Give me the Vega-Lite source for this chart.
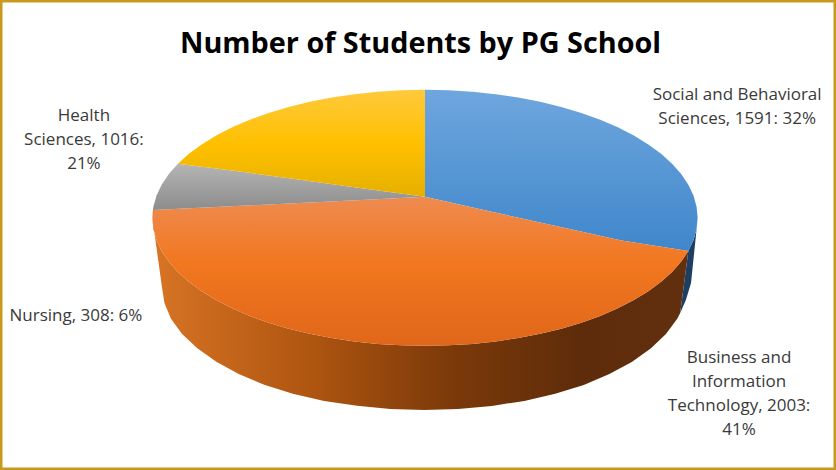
{"$schema":"https://vega.github.io/schema/vega-lite/v6.json","width":836,"height":470,"autosize":"none","padding":0,"background":"white","view":{"stroke":"#C79A1E","strokeWidth":5},"title":{"text":"Number of Students by PG School","font":"Open Sans","fontSize":28.8,"fontWeight":"bold","color":"#000000","anchor":"start","dx":180,"dy":59,"offset":0},"projection":{"type":"orthographic","rotate":[0,-28,0],"scale":1570,"translate":[425,1583]},"datasets":{"slices":[{"type":"Feature","properties":{"part":"wall","school":"Social and Behavioral Sciences"},"geometry":{"type":"Polygon","coordinates":[[[85,80],[63.86,79.12],[58.07,78.71],[53.74,78.37],[75,80],[80,80],[85,80]]]}},{"type":"Feature","properties":{"part":"wall","school":"Business and Information Technology"},"geometry":{"type":"Polygon","coordinates":[[[75,80],[53.74,78.37],[51.9,78.22],[46.82,77.85],[41.7,77.52],[36.58,77.23],[31.42,76.98],[26.22,76.77],[20.98,76.61],[15.72,76.49],[10.44,76.41],[5.13,76.36],[-0.16,76.34],[-5.37,76.36],[-10.59,76.41],[-15.94,76.48],[-21.29,76.59],[-26.54,76.75],[-31.73,76.96],[-36.9,77.21],[-42.03,77.49],[-47.12,77.81],[-52.18,78.18],[-57.18,78.61],[-62.19,79.08],[-90,80],[-85,80],[-80,80],[-75,80],[-70,80],[-65,80],[-60,80],[-55,80],[-50,80],[-45,80],[-40,80],[-35,80],[-30,80],[-25,80],[-20,80],[-15,80],[-10,80],[-5,80],[0,80],[5,80],[10,80],[15,80],[20,80],[25,80],[30,80],[35,80],[40,80],[45,80],[50,80],[55,80],[60,80],[65,80],[70,80],[75,80]]]}},{"type":"Feature","properties":{"part":"top","school":"Social and Behavioral Sciences","students":1591,"pct":32,"label":"Social and Behavioral\nSciences, 1591: 32%","labelLon":138.5,"labelLat":72.54},"geometry":{"type":"Polygon","coordinates":[[[0,90],[180,80],[175,80],[170,80],[165,80],[160,80],[155,80],[150,80],[145,80],[140,80],[135,80],[130,80],[125,80],[120,80],[115,80],[110,80],[105,80],[100,80],[95,80],[90,80],[85,80],[80,80],[75,80],[71.1,82.4],[68.9,84.87],[66.6,87.4],[0,90]]]}},{"type":"Feature","properties":{"part":"top","school":"Business and Information Technology","students":2003,"pct":41,"label":"Business and\nInformation\nTechnology, 2003:\n41%","labelLon":51.88,"labelLat":75.27},"geometry":{"type":"Polygon","coordinates":[[[0,90],[66.6,87.4],[68.9,84.87],[71.1,82.4],[75,80],[70,80],[65,80],[60,80],[55,80],[50,80],[45,80],[40,80],[35,80],[30,80],[25,80],[20,80],[15,80],[10,80],[5,80],[0,80],[-5,80],[-10,80],[-15,80],[-20,80],[-25,80],[-30,80],[-35,80],[-40,80],[-45,80],[-50,80],[-55,80],[-60,80],[-65,80],[-70,80],[-75,80],[-80,80],[-85,80],[-90,80],[-93.5,80],[-91.06,82.53],[-88.6,85.03],[-86.1,87.5],[0,90]]]}},{"type":"Feature","properties":{"part":"top","school":"Nursing","students":308,"pct":6,"label":"Nursing, 308: 6%","labelLon":-65,"labelLat":75.8},"geometry":{"type":"Polygon","coordinates":[[[0,90],[-86.1,87.5],[-88.6,85.03],[-91.06,82.53],[-93.5,80],[-95,80],[-100,80],[-105,80],[-110,80],[-115,80],[-112.86,82.65],[-110.5,85.19],[-108.1,87.64],[0,90]]]}},{"type":"Feature","properties":{"part":"top","school":"Health Sciences","students":1016,"pct":21,"label":"Health\nSciences, 1016:\n21%","labelLon":-131.08,"labelLat":73.25},"geometry":{"type":"Polygon","coordinates":[[[0,90],[-108.1,87.64],[-110.5,85.19],[-112.86,82.65],[-115,80],[-120,80],[-125,80],[-130,80],[-135,80],[-140,80],[-145,80],[-150,80],[-155,80],[-160,80],[-165,80],[-170,80],[-175,80],[-180,80],[0,90]]]}}]},"data":{"name":"slices"},"layer":[
{"transform":[{"filter":"datum.properties.part=='wall' && datum.properties.school=='Social and Behavioral Sciences'"}],"mark":{"type":"geoshape","fill":"#1C3F63"}},
{"transform":[{"filter":"datum.properties.part=='wall' && datum.properties.school=='Business and Information Technology'"}],"mark":{"type":"geoshape","fill":{"gradient":"linear","x1":0,"y1":0,"x2":1,"y2":0,"stops":[{"offset":0,"color":"#D87425"},{"offset":0.3,"color":"#AE5510"},{"offset":0.55,"color":"#7D3A0A"},{"offset":0.8,"color":"#5E2C0A"},{"offset":1,"color":"#63300F"}]}}},
{"transform":[{"filter":"datum.properties.pct==32"}],"mark":{"type":"geoshape","fill":{"gradient":"linear","x1":0,"y1":0,"x2":0,"y2":1,"stops":[{"offset":0,"color":"#6FA6DE"},{"offset":1,"color":"#3F87CB"}]}}},
{"transform":[{"filter":"datum.properties.pct==41"}],"mark":{"type":"geoshape","fill":{"gradient":"linear","x1":0,"y1":0,"x2":0,"y2":1,"stops":[{"offset":0,"color":"#EE8B50"},{"offset":0.45,"color":"#F2771F"},{"offset":1,"color":"#E0661A"}]}}},
{"transform":[{"filter":"datum.properties.pct==6"}],"mark":{"type":"geoshape","fill":{"gradient":"linear","x1":0,"y1":0,"x2":0,"y2":1,"stops":[{"offset":0,"color":"#B5B5B5"},{"offset":1,"color":"#8C8C8C"}]}}},
{"transform":[{"filter":"datum.properties.pct==21"}],"mark":{"type":"geoshape","fill":{"gradient":"linear","x1":0,"y1":0,"x2":0,"y2":1,"stops":[{"offset":0,"color":"#FFC93C"},{"offset":0.5,"color":"#FFC000"},{"offset":1,"color":"#E6B000"}]}}},
{"transform":[{"filter":"datum.properties.part=='top'"}],"mark":{"type":"text","font":"Open Sans","fontSize":17,"color":"#3A3A3A","lineBreak":"\n","lineHeight":24,"align":"center","baseline":"middle"},"encoding":{"longitude":{"field":"properties.labelLon","type":"quantitative"},"latitude":{"field":"properties.labelLat","type":"quantitative"},"text":{"field":"properties.label"}}}
]}
